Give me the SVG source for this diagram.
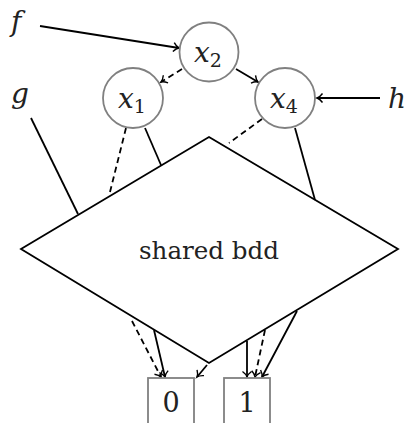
<svg xmlns="http://www.w3.org/2000/svg" width="406" height="423" viewBox="0 0 406 423">
<style>
.e{stroke:#000;stroke-width:1.8;fill:none}
.d{stroke-dasharray:6,4}
.a{marker-end:url(#arr)}
.n{stroke:#808080;stroke-width:1.8;fill:#fff}
.t{font-family:"DejaVu Serif","Liberation Serif","Times New Roman",serif;fill:#222}
.m{font-style:italic;font-size:28px}
.s{font-size:19px}
</style>
<defs>
<marker id="arr" markerUnits="userSpaceOnUse" markerWidth="14" markerHeight="14" viewBox="-8 -7 10 14" refX="0" refY="0" orient="auto">
<path d="M-5.5,-4.5 C-3.5,-1.8 -1.5,-0.4 0,0 C-1.5,0.4 -3.5,1.8 -5.5,4.5" fill="none" stroke="#000" stroke-width="1.4"/>
</marker>
</defs>
<g id="connectors">
<path class="e a" d="M40,26 L179,48"/>
<path class="e d a" d="M182,69 L161,82"/>
<path class="e a" d="M236,69 L258,82"/>
<path class="e a" d="M380,98 L317,98"/>
<path class="e" d="M31,118 L78,214"/>
<path class="e d" d="M126,128 L109,196"/>
<path class="e" d="M145,128 L161,165"/>
<path class="e d" d="M262,119 L229,143"/>
<path class="e" d="M295,128 L315,200"/>
<path class="e d a" d="M132,321 L161,377"/>
<path class="e a" d="M154,330 L165,377"/>
<path class="e a" d="M207,365 L197,377"/>
<path class="e a" d="M247,341 L247,377"/>
<path class="e d a" d="M265,330 L255,377"/>
<path class="e a" d="M297,311 L262,377"/>
</g>
<g id="bdd">
<polygon class="e" points="209,137 398,249 209,363 21,249" fill="none"/>
<text class="t" x="209" y="259" font-size="25" text-anchor="middle" textLength="140" lengthAdjust="spacingAndGlyphs">shared bdd</text>
</g>
<g id="x2">
<circle class="n" cx="209" cy="52" r="29.5"/>
<text class="t" x="194" y="62"><tspan class="m">x</tspan><tspan class="s" dy="5">2</tspan></text>
</g>
<g id="x1">
<circle class="n" cx="133" cy="98" r="30"/>
<text class="t" x="118" y="108"><tspan class="m">x</tspan><tspan class="s" dy="5">1</tspan></text>
</g>
<g id="x4">
<circle class="n" cx="285" cy="98" r="30"/>
<text class="t" x="270" y="108"><tspan class="m">x</tspan><tspan class="s" dy="5">4</tspan></text>
</g>
<g id="f"><text class="t m" x="11" y="31">f</text></g>
<g id="g"><text class="t m" x="11" y="103">g</text></g>
<g id="h"><text class="t m" x="388" y="108">h</text></g>
<g id="zero">
<rect class="n" x="148" y="378" width="46" height="60"/>
<text class="t" x="171" y="412" font-size="27" text-anchor="middle">0</text>
</g>
<g id="one">
<rect class="n" x="224" y="378" width="46" height="60"/>
<text class="t" x="247" y="412" font-size="27" text-anchor="middle">1</text>
</g>
</svg>
